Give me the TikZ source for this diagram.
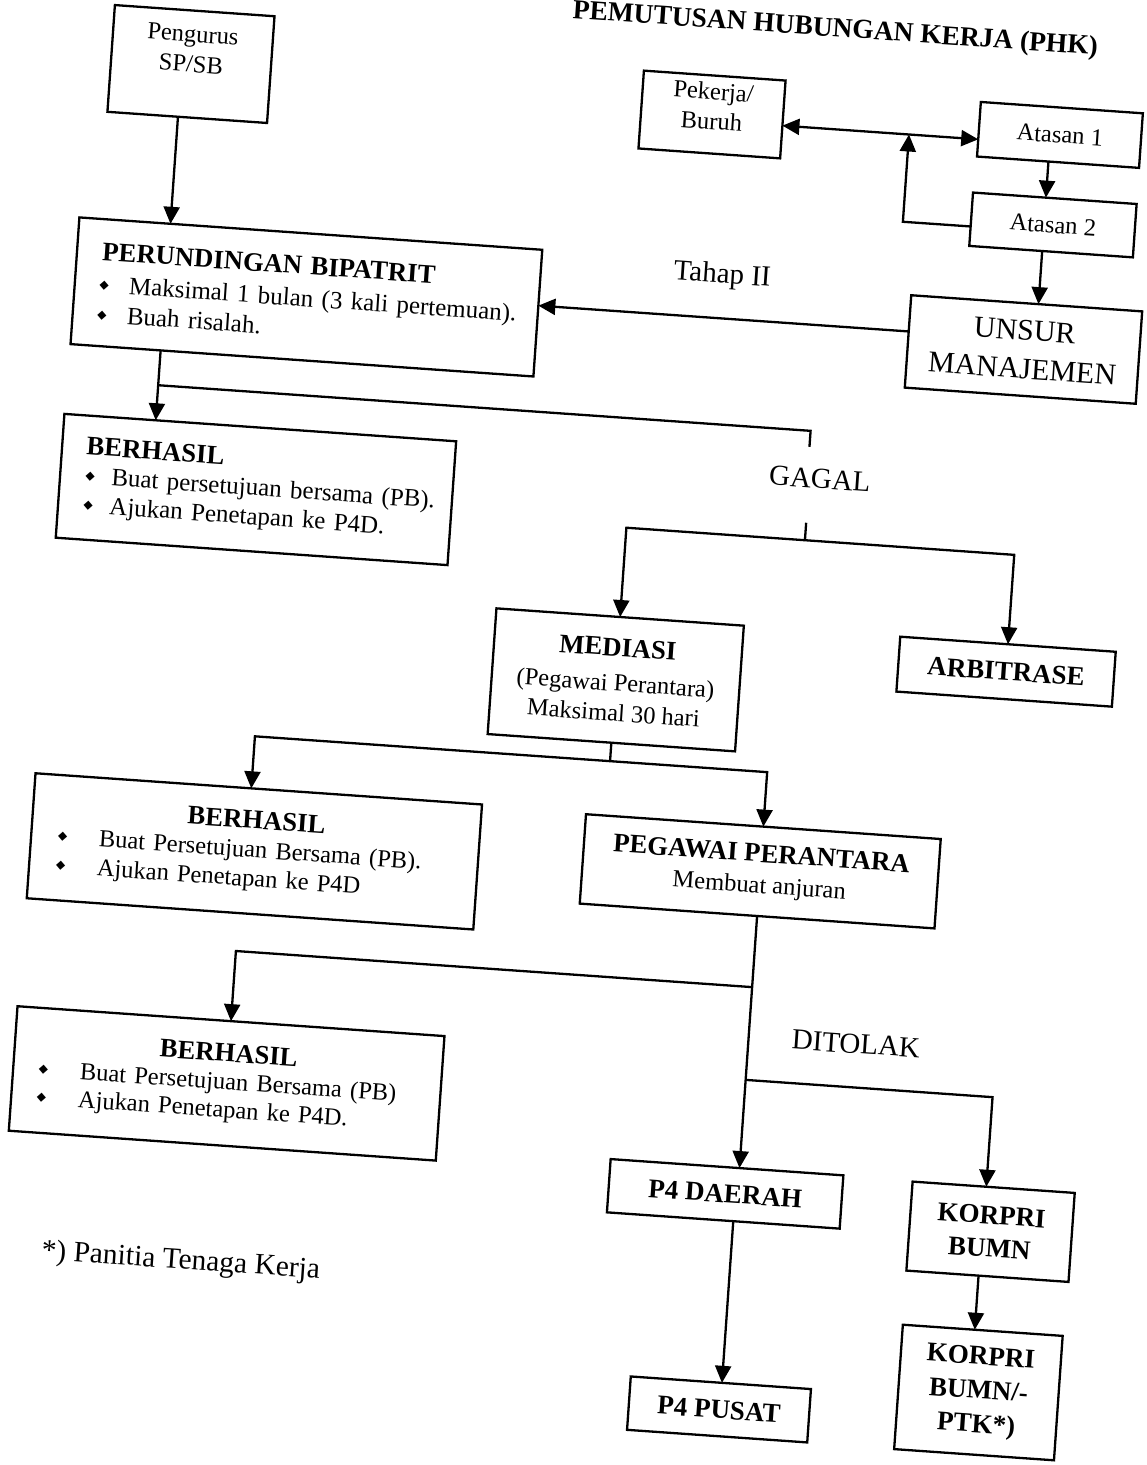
\documentclass[tikz,border=0pt]{standalone}
\usepackage{fontspec}
\setmainfont{Liberation Serif}
\newfontfamily\symf{DejaVu Sans}
\usetikzlibrary{arrows.meta,calc}
\setlength{\parindent}{0pt}
\newcommand{\bodyfont}{\fontsize{24.5}{30}\selectfont}
\newcommand{\ttlfont}{\fontsize{26.7}{30}\selectfont\bfseries}
\newcommand{\labfont}{\fontsize{29}{34}\selectfont}
\newcommand{\dmd}{\raisebox{4pt}{\symf\fontsize{12}{12}\selectfont ◆}}
\newcommand{\bulit}[2]{\hspace*{#1}\makebox[#2][l]{\dmd}}
\begin{document}
\begin{tikzpicture}[x=1pt,y=-1pt,
  box/.style={draw, line width=2.3pt, inner sep=0pt, outer sep=0pt},
  conn/.style={line width=2.3pt},
  arr/.style={conn, -{Triangle[length=17pt,width=16pt]}},
  darr/.style={conn, {Triangle[length=17pt,width=16pt]}-{Triangle[length=17pt,width=16pt]}}]
\useasboundingbox (0,0) rectangle (1147,1465);
\fill[white] (0,0) rectangle (1147,1465);
\clip (0,0) rectangle (1147,1465);
\begin{scope}[rotate around={-4:(573,732)}, transform shape]

% title (cut by the top edge, as in the scan)
\node[font=\fontsize{27.5}{30}\selectfont\bfseries, anchor=base east, inner sep=0pt] (title) at (1049,20) {PEMUTUSAN HUBUNGAN KERJA (PHK)};

% top row
\node[box, minimum width=160pt, minimum height=107pt, font=\bodyfont] (peng) at (145.3,92.3)
  {\raisebox{13pt}[\height][\depth]{\begin{tabular}{@{}c@{}}Pengurus\\SP/SB\end{tabular}}};
\node[box, minimum width=142pt, minimum height=78pt, font=\bodyfont] (pek) at (668.6,106.3)
  {\raisebox{6pt}[\height][\depth]{\begin{tabular}{@{}c@{}}Pekerja/\\Buruh\end{tabular}}};
\node[box, minimum width=162.4pt, minimum height=54.7pt, font=\bodyfont] (at1) at (1017.1,102.4) {Atasan 1};
\node[box, minimum width=164pt, minimum height=53.5pt, font=\bodyfont] (at2) at (1016.4,192.7) {Atasan 2};
\node[box, minimum width=231.5pt, minimum height=92.6pt, font=\fontsize{30}{38.5}\selectfont, align=center] (unsur) at (995.7,319) {UNSUR\\MANAJEMEN};

\node[box, text width=464pt, minimum height=127pt, font=\fontsize{25}{30}\selectfont, align=left] (perund) at (276.7,316.6)
  {\hspace*{25.5pt}{\ttlfont PERUNDINGAN BIPATRIT}\\[2pt]
   \bulit{24.8pt}{29.7pt}Maksimal 1 bulan (3 kali pertemuan).\\
   \bulit{24.8pt}{29.7pt}Buah risalah.};

\node[box, text width=392.7pt, minimum height=124.1pt, font=\fontsize{25}{29}\selectfont, align=left] (berh1) at (239.8,512.2)
  {\hspace*{24.6pt}{\ttlfont BERHASIL}\\
   \bulit{25.6pt}{25.9pt}Buat persetujuan bersama (PB).\\
   \bulit{25.6pt}{25.9pt}Ajukan Penetapan ke P4D.};

\node[font=\labfont] (tahap) at (690,267) {Tahap II};
\node[font=\labfont] (gagal) at (801.7,462.4) {GAGAL};

\node[box, minimum width=248pt, minimum height=126pt, font=\bodyfont, align=center] (medi) at (612,677)
  {{\ttlfont MEDIASI}\\[5pt](Pegawai Perantara)\\Maksimal 30 hari};
\node[box, minimum width=216pt, minimum height=55pt, font=\fontsize{27}{30}\selectfont\bfseries] (arb) at (1000.8,641.6) {ARBITRASE};

\node[box, text width=447.6pt, minimum height=125.3pt, font=\fontsize{24.5}{29}\selectfont, align=left] (berh2) at (263.5,873.3)
  {\makebox[\hsize][c]{\ttlfont BERHASIL}\\
   \bulit{27pt}{41pt}Buat Persetujuan Bersama (PB).\\
   \bulit{27pt}{41pt}Ajukan Penetapan ke P4D};
\node[box, minimum width=355.6pt, minimum height=89.6pt, font=\fontsize{24.5}{31}\selectfont, align=center] (pega) at (769.5,857.9)
  {{\ttlfont PEGAWAI PERANTARA}\\Membuat anjuran};

\node[box, text width=428pt, minimum height=124.8pt, font=\fontsize{24.5}{28}\selectfont, align=left] (berh3) at (252,1106.7)
  {\makebox[\hsize][c]{\ttlfont BERHASIL}\\
   \bulit{25.7pt}{41.3pt}Buat Persetujuan Bersama (PB)\\
   \bulit{25.7pt}{41.3pt}Ajukan Penetapan ke P4D.};

\node[font=\labfont] (ditolak) at (877,1023.4) {DITOLAK};
\node[font=\fontsize{29.5}{34}\selectfont] (note) at (218.7,1287.8) {*) Panitia Tenaga Kerja};

\node[box, minimum width=233.3pt, minimum height=53.4pt, font=\fontsize{27}{30}\selectfont\bfseries] (p4d) at (757,1182.1) {P4 DAERAH};
\node[box, minimum width=180.6pt, minimum height=53.5pt, font=\fontsize{27}{30}\selectfont\bfseries] (p4p) at (765.9,1397.6) {P4 PUSAT};
\node[box, minimum width=162.5pt, minimum height=89.2pt, font=\fontsize{27}{33}\selectfont\bfseries, align=center] (korpri) at (1024.4,1201.4) {KORPRI\\BUMN};
\node[box, minimum width=160.2pt, minimum height=124.7pt, font=\fontsize{27}{34}\selectfont\bfseries, align=center] (korpri2) at (1023.5,1362.6) {KORPRI\\BUMN/-\\PTK*)};

% junction coordinates
\coordinate (pk) at (866.5,112.5);
\coordinate (pc) at (866.5,200);
\coordinate (g1) at (135,415);
\coordinate (g2) at (789,415);
\coordinate (g3) at (789,431);
\coordinate (g4) at (791,507);
\coordinate (g5) at (791,524.5);
\coordinate (g6) at (612,524.5);
\coordinate (g7) at (1000.8,524.5);
\coordinate (h1) at (612,758.5);
\coordinate (h2) at (256,758.5);
\coordinate (h3) at (769.5,758.5);
\coordinate (k1) at (769.5,974);
\coordinate (k2) at (252,974);
\coordinate (k3) at (769.5,1067);
\coordinate (k4) at (1017,1067);

% connectors
\draw[arr] ($(peng.south west)!70.7pt!(peng.south east)$) -- ($(perund.north west)!91.3pt!(perund.north east)$);
\draw[darr] ($(pek.north east)!45.2pt!(pek.south east)$) -- ($(at1.north west)!37.45pt!(at1.south west)$);
\draw[arr] ($(at1.south west)!71.6pt!(at1.south east)$) -- ($(at2.north west)!73.1pt!(at2.north east)$);
\draw[arr] ($(at2.north west)!34pt!(at2.south west)$) -- (pc) -- (pk);
\draw[arr] ($(at2.south west)!73.1pt!(at2.south east)$) -- ($(unsur.north west)!127.55pt!(unsur.north east)$);
\draw[arr] ($(unsur.north west)!36.3pt!(unsur.south west)$) -- ($(perund.north east)!56pt!(perund.south east)$);
\draw[arr] ($(perund.south west)!90.3pt!(perund.south east)$) -- ($(berh1.north west)!91.55pt!(berh1.north east)$);
\draw[conn] (g1) -- (g2) -- (g3);
\draw[conn] (g4) -- (g5);
\draw[arr] (g5) -- (g6) -- (medi.north);
\draw[arr] (g5) -- (g7) -- (arb.north);
\draw[conn] (medi.south) -- (h1);
\draw[arr] (h1) -- (h2) -- ($(berh2.north west)!216.3pt!(berh2.north east)$);
\draw[arr] (h1) -- (h3) -- (pega.north);
\draw[conn] (pega.south) -- (k1) -- (k3);
\draw[arr] (k1) -- (k2) -- (berh3.north);
\draw[arr] (k3) -- ($(p4d.north west)!129.15pt!(p4d.north east)$);
\draw[arr] (k3) -- (k4) -- ($(korpri.north west)!73.85pt!(korpri.north east)$);
\draw[arr] ($(p4d.south west)!126.65pt!(p4d.south east)$) -- ($(p4p.north west)!91.4pt!(p4p.north east)$);
\draw[arr] ($(korpri.south west)!72.35pt!(korpri.south east)$) -- ($(korpri2.north west)!72.1pt!(korpri2.north east)$);
\end{scope}
\end{tikzpicture}
\end{document}
